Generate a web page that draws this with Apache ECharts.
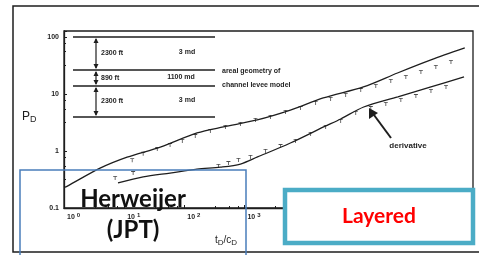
<!DOCTYPE html>
<html>
<head>
<meta charset="utf-8">
<script src="https://cdn.jsdelivr.net/npm/echarts@6/dist/echarts.min.js"></script>
<style>
  html, body { margin: 0; padding: 0; background: #fff; }
  #chart { width: 479px; height: 255px; }
</style>
</head>
<body>
<div id="chart"></div>
<script>
// pressure curve (tD/CD, pD)
const pressT = [1, 1.12, 3.98, 11.2, 39.8, 163, 447, 1630, 5800, 20400, 95000, 350000, 1260000, 4600000];
const pressP = [0.23, 0.24, 0.5, 0.78, 1.17, 2.07, 2.64, 3.5, 5.2, 8.5, 13.3, 23.3, 39.5, 64];
// derivative curve
const derivT = [7.9, 20.7, 58, 163, 398, 858, 1650, 5800, 20700, 39800, 96000, 355000, 1260000, 4470000];
const derivP = [0.275, 0.35, 0.41, 0.48, 0.52, 0.59, 0.785, 1.38, 2.64, 3.64, 5.9, 8.9, 13.3, 19.9];
// measured points (tick marks)
const pressPtsT = [13.6, 20.7, 35.5, 58, 92.6, 152, 271, 482, 858, 1525, 2710, 4820, 8580, 15250, 27100, 48200, 85800, 152500, 271000, 482000, 858000, 1520000, 2710000];
const pressPtsP = [0.69, 0.89, 1.08, 1.27, 1.5, 1.83, 2.24, 2.64, 2.98, 3.5, 3.95, 4.83, 5.67, 6.95, 8.17, 9.6, 11.7, 13.8, 16.9, 19.9, 24.3, 29.8, 36.4];
const derivPtsT = [7.08, 14.1, 369, 541, 794, 1259, 2239, 3981, 7079, 12600, 22400, 39800, 70800, 126000, 224000, 398000, 708000, 1260000, 2240000];
const derivPtsP = [0.336, 0.41, 0.546, 0.615, 0.695, 0.785, 1.0, 1.22, 1.5, 1.99, 2.64, 3.36, 4.64, 5.67, 6.68, 7.85, 9.2, 11.3, 13.3];
// layer model
const layers = [
  { thick: '2300 ft', perm: '3 md' },
  { thick: '890 ft', perm: '1100 md' },
  { thick: '2300 ft', perm: '3 md' }
];

const ink = '#1e1e1e';
const zip = (a, b) => a.map((v, i) => [v, b[i]]);
const tickMark = 'path://M0,0h10v2h-10z M4,0h2v9h-2z';

const chart = echarts.init(document.getElementById('chart'));

// diagram of the layers, upper left of plot
const layerY = [37, 70, 86, 117];
const diagram = [];
layerY.forEach(y => {
  diagram.push({ type: 'line', shape: { x1: 73, y1: y, x2: 215, y2: y }, style: { stroke: ink, lineWidth: 1.3 } });
});
for (let i = 0; i < 3; i++) {
  const y1 = layerY[i] + 2, y2 = layerY[i + 1] - 2;
  diagram.push({ type: 'line', shape: { x1: 96, y1: y1, x2: 96, y2: y2 }, style: { stroke: ink, lineWidth: 1.2 } });
  diagram.push({ type: 'polygon', shape: { points: [[96, y1 - 1], [93.5, y1 + 4], [98.5, y1 + 4]] }, style: { fill: ink } });
  diagram.push({ type: 'polygon', shape: { points: [[96, y2 + 1], [93.5, y2 - 4], [98.5, y2 - 4]] }, style: { fill: ink } });
  const my = i === 1 ? 78 : (layerY[i] + layerY[i + 1]) / 2;
  diagram.push({ type: 'text', x: 101, y: my, style: { text: layers[i].thick, font: 'bold 7px "Liberation Sans"', fill: ink, textVerticalAlign: 'middle' } });
  diagram.push({ type: 'text', x: i === 1 ? 181 : 187, y: my - 1, style: { text: layers[i].perm, font: 'bold 7px "Liberation Sans"', fill: ink, textAlign: 'center', textVerticalAlign: 'middle' } });
}

chart.setOption({
  animation: false,
  grid: { left: 64, top: 31, right: 6, bottom: 47, show: true, borderColor: ink, borderWidth: 1.3 },
  xAxis: {
    type: 'log',
    min: 1,
    max: 6300000,
    axisLine: { show: true, lineStyle: { color: ink, width: 1.3 } },
    axisTick: { show: true, inside: true, length: 3, lineStyle: { color: ink } },
    minorTick: { show: true, splitNumber: 4, length: 2, lineStyle: { color: ink } },
    splitLine: { show: false },
    axisLabel: {
      align: 'left',
      margin: 4,
      padding: [0, 0, 0, 3],
      showMaxLabel: false,
      formatter: v => '10{s|' + Math.round(Math.log10(v)) + '}',
      color: ink,
      fontSize: 7,
      fontWeight: 'bold',
      fontFamily: 'Liberation Sans',
      rich: { s: { fontSize: 6, fontWeight: 'bold', verticalAlign: 'top', padding: [0, 0, 5, 2], color: ink } }
    }
  },
  yAxis: {
    type: 'log',
    min: 0.1,
    max: 127,
    axisLine: { show: true, lineStyle: { color: ink, width: 1.3 } },
    axisTick: { show: true, inside: true, length: 3, lineStyle: { color: ink } },
    minorTick: { show: true, splitNumber: 4, length: 2, lineStyle: { color: ink } },
    splitLine: { show: false },
    axisLabel: {
      margin: 5,
      showMaxLabel: false,
      color: ink,
      fontSize: 7,
      fontWeight: 'bold',
      fontFamily: 'Liberation Sans',
      formatter: v => (v < 1 ? '0.1' : String(Math.round(v)))
    }
  },
  series: [
    { type: 'line', data: zip(pressT, pressP), smooth: 0.3, showSymbol: false, lineStyle: { color: ink, width: 1.3 } },
    { type: 'line', data: zip(derivT, derivP), smooth: 0.3, showSymbol: false, lineStyle: { color: ink, width: 1.3 } },
    { type: 'scatter', data: zip(pressPtsT, pressPtsP), symbol: tickMark, symbolSize: [4, 4], itemStyle: { color: ink } },
    { type: 'scatter', data: zip(derivPtsT, derivPtsP), symbol: tickMark, symbolSize: [4, 4], itemStyle: { color: ink } }
  ],
  graphic: [
    // scan frame (top, left, bottom edges)
    { type: 'polyline', shape: { points: [[479, 6], [13, 6], [13, 252], [479, 252]] }, style: { fill: 'none', stroke: ink, lineWidth: 1.5 }, z: 1 },
    ...diagram.map(d => Object.assign(d, { z: 50 })),
    { type: 'text', x: 222, y: 71, z: 50, style: { text: 'areal geometry of', font: 'bold 7px "Liberation Sans"', fill: ink, textVerticalAlign: 'middle' } },
    { type: 'text', x: 222, y: 85, z: 50, style: { text: 'channel levee model', font: 'bold 7px "Liberation Sans"', fill: ink, textVerticalAlign: 'middle' } },
    // axis names
    { type: 'text', x: 22, y: 117, z: 50, style: { text: '{p|P}{d|D}', fill: ink, textVerticalAlign: 'middle', rich: { p: { fontSize: 12, fontFamily: 'Liberation Sans', fill: ink }, d: { fontSize: 9, fontFamily: 'Liberation Sans', fill: ink, padding: [5, 0, 0, 0] } } } },
    { type: 'text', x: 215, y: 240, z: 50, style: { text: '{t|t}{d|D}{t|/c}{d|D}', fill: ink, textVerticalAlign: 'middle', rich: { t: { fontSize: 10, fontFamily: 'Liberation Sans', fill: ink }, d: { fontSize: 8, fontFamily: 'Liberation Sans', fill: ink, padding: [5, 0, 0, 0] } } } },
    // derivative note
    { type: 'text', x: 408, y: 146, z: 50, style: { text: 'derivative', font: 'bold 8px "Liberation Sans"', fill: ink, textAlign: 'center', textVerticalAlign: 'middle' } },
    { type: 'line', z: 50, shape: { x1: 391, y1: 138, x2: 374, y2: 115 }, style: { stroke: ink, lineWidth: 2 } },
    { type: 'polygon', z: 50, shape: { points: [[369, 108], [369, 119], [378, 113]] }, style: { fill: ink } },
    // overlay boxes
    { type: 'rect', z: 100, shape: { x: 20, y: 170, width: 226, height: 100 }, style: { fill: 'none', stroke: '#4a7ebb', lineWidth: 1.5 } },
    { type: 'text', z: 101, x: 133, y: 199, style: { text: 'Herweijer', font: 'bold 24px Lato', fill: '#111', textAlign: 'center', textVerticalAlign: 'middle' } },
    { type: 'text', z: 101, x: 133, y: 230, style: { text: '(JPT)', font: 'bold 24px Lato', fill: '#111', textAlign: 'center', textVerticalAlign: 'middle' } },
    { type: 'rect', z: 100, shape: { x: 285, y: 190, width: 188, height: 53 }, style: { fill: '#fff', stroke: '#4bacc6', lineWidth: 4.5 } },
    { type: 'text', z: 101, x: 379, y: 216, style: { text: 'Layered', font: 'bold 21px Lato', fill: '#ff0000', textAlign: 'center', textVerticalAlign: 'middle' } }
  ]
});
</script>
</body>
</html>
